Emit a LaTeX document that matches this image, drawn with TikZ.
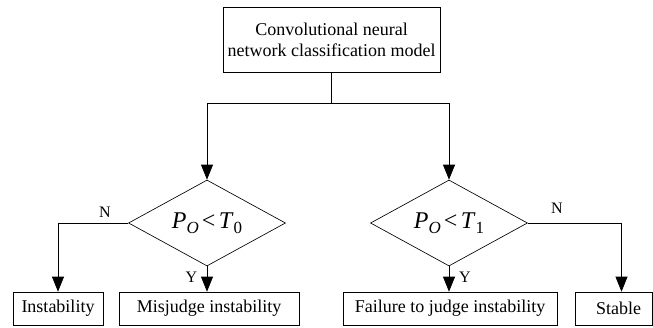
\documentclass[tikz,border=0pt]{standalone}
\usepackage{fontspec}
\usepackage{amsmath}
\setmainfont{Liberation Serif}
\usetikzlibrary{arrows.meta,shapes.geometric}
\newcommand{\condexpr}[1]{{\fontsize{24}{26}\selectfont\textit{P}\raisebox{-0.2em}{\fontsize{17}{17}\selectfont\textit{O}}\hspace{3pt}<\hspace{3.5pt}\textit{T}\raisebox{-0.2em}{\fontsize{17}{17}\selectfont #1}}}
\begin{document}
\begin{tikzpicture}[x=1pt,y=-1pt,
  line width=0.65pt,
  box/.style={draw, rectangle, inner sep=0pt, minimum height=33pt,
    font=\fontsize{18}{21}\selectfont},
  decision/.style={draw, diamond, inner sep=0pt, aspect=1.83,
    minimum width=157pt, minimum height=86pt},
  flow/.style={-{Triangle[width=12pt,length=15pt]}},
  yn/.style={font=\fontsize{16}{16}\selectfont, inner sep=0pt}]
\useasboundingbox (0,0) rectangle (653,327);

% model box
\node[box, minimum width=217pt, minimum height=65pt, align=center] (cnn) at (331.5,39.5)
  {Convolutional neural\\network classification model};

% decisions
\node[decision] (d1) at (207,223) {\condexpr{0}};
\node[decision] (d2) at (449,223) {\condexpr{1}};

% outcome boxes
\node[box, minimum width=90pt]  (inst) at (58,308.5)  {Instability};
\node[box, minimum width=180pt] (mis)  at (209,308.5) {Misjudge instability};
\node[box, minimum width=214pt] (fail) at (450,308.5) {Failure to judge instability};
\node[box, minimum width=77pt]  (stab) at (613.5,308.5) {\hspace*{10pt}Stable};

% branch labels
\node[yn] (n1) at (105,212.5) {N};
\node[yn] (y1) at (191.5,277.5) {Y};
\node[yn] (n2) at (557,208.5) {N};
\node[yn] (y2) at (465,277.5) {Y};

% connectors
\coordinate (split) at (cnn.south |- 0,103);
\draw (cnn.south) -- (split);
\draw[flow] (split) -| (d1.north);
\draw[flow] (split) -| (d2.north);
\draw[flow] (d1.west) -| (inst.north);
\draw[flow] (d1.south) -- (d1.south |- mis.north);
\draw[flow] (d2.south) -- (d2.south |- fail.north);
\draw[flow] (d2.east) -| ([xshift=8pt]stab.north);
\end{tikzpicture}
\end{document}
